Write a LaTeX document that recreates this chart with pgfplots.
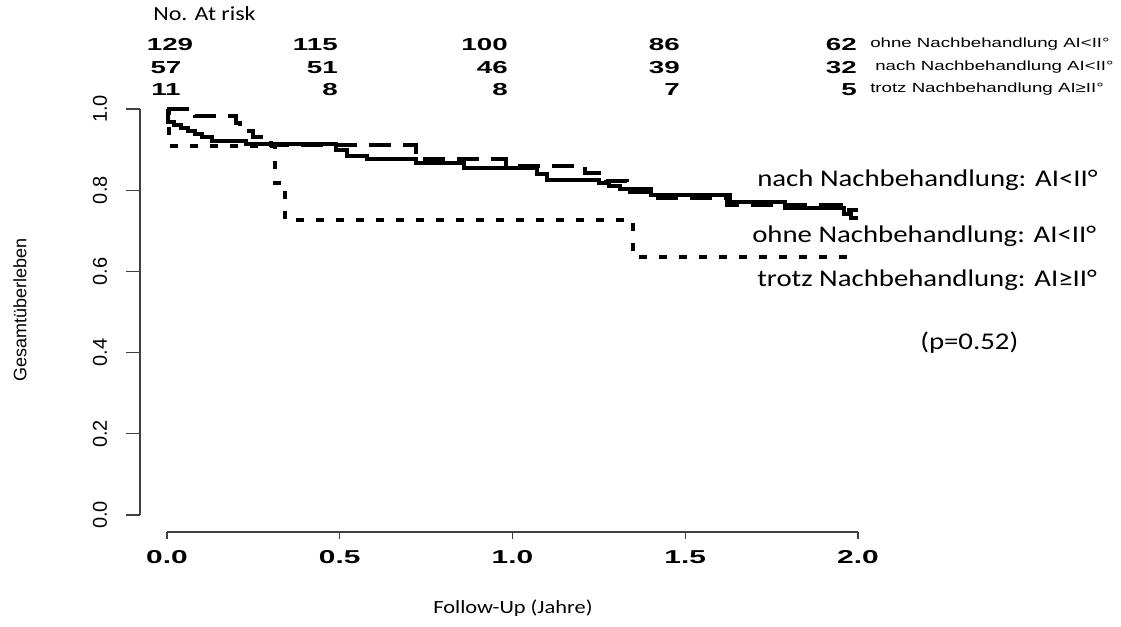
\documentclass[border=0pt]{standalone}
\usepackage{pgfplots}
\pgfplotsset{compat=1.18}
\usepackage{fontspec}
\setmainfont{Liberation Sans}
\newfontfamily\ArialW{Liberation Sans}[FakeStretch=1.4]
\newfontfamily\ArialB{Liberation Sans}[FakeStretch=1.6]
\newfontfamily\CalW{Carlito}[FakeStretch=1.2]
\begin{document}
\begin{tikzpicture}
\path[use as bounding box] (0,0) rectangle (840.75pt,469.5pt);
\begin{axis}[
  at={(105pt,70.5pt)}, anchor=south west,
  scale only axis, width=538.5pt, height=317.25pt,
  xmin=-0.0781, xmax=2, ymin=-0.0419, ymax=1,
  axis x line*=bottom, axis y line*=left,
  axis line style={draw=none},
  major tick length=0pt,
  xtick={0,0.5,1,1.5,2}, xticklabels={0.0,0.5,1.0,1.5,2.0},
  ytick={0,0.2,0.4,0.6,0.8,1}, yticklabels={0.0,0.2,0.4,0.6,0.8,1.0},
  xticklabel style={font=\ArialB\bfseries\fontsize{14}{15}\selectfont, anchor=center, yshift=-18.75pt},
  yticklabel style={font=\fontsize{15}{16}\selectfont, anchor=center, xshift=-30pt, rotate=90},
  clip=false,
]
% ohne Nachbehandlung (solid)
\addplot[const plot, line width=3pt, black] coordinates {
(0,1.0) (0.003,0.969) (0.02,0.961) (0.04,0.953) (0.06,0.946) (0.08,0.938)
(0.10,0.930) (0.13,0.922) (0.23,0.915) (0.49,0.899) (0.52,0.884) (0.58,0.877)
(0.72,0.867) (0.86,0.855) (1.07,0.840) (1.10,0.825) (1.25,0.817) (1.28,0.810)
(1.31,0.803) (1.34,0.795) (1.40,0.788) (1.63,0.772) (1.79,0.756) (1.96,0.741)
(1.98,0.731) (2.0,0.731)};
% nach Nachbehandlung (dashed)
\addplot[const plot, line width=3pt, black, dash pattern=on 16.5pt off 9pt] coordinates {
(0,1.0) (0.08,0.982) (0.20,0.965) (0.21,0.947) (0.25,0.930) (0.30,0.912)
(0.72,0.894) (0.73,0.877) (0.98,0.860) (1.21,0.842) (1.27,0.822) (1.33,0.802)
(1.41,0.782) (1.62,0.764) (1.95,0.750) (2.0,0.750)};
% trotz Nachbehandlung (dotted)
\addplot[const plot, line width=3pt, black, dash pattern=on 6pt off 9pt] coordinates {
(0,1.0) (0.005,0.909) (0.313,0.818) (0.342,0.727) (1.349,0.636) (2.0,0.636)};
% R-style axes
\draw[line width=0.9pt, black!75] (axis cs:-0.0781,0) -- (axis cs:-0.0781,1);
\draw[line width=0.9pt, black!75] (axis cs:-0.0781,0) -- ([xshift=-10.5pt]axis cs:-0.0781,0);
\draw[line width=0.9pt, black!75] (axis cs:-0.0781,0.2) -- ([xshift=-10.5pt]axis cs:-0.0781,0.2);
\draw[line width=0.9pt, black!75] (axis cs:-0.0781,0.4) -- ([xshift=-10.5pt]axis cs:-0.0781,0.4);
\draw[line width=0.9pt, black!75] (axis cs:-0.0781,0.6) -- ([xshift=-10.5pt]axis cs:-0.0781,0.6);
\draw[line width=0.9pt, black!75] (axis cs:-0.0781,0.8) -- ([xshift=-10.5pt]axis cs:-0.0781,0.8);
\draw[line width=0.9pt, black!75] (axis cs:-0.0781,1) -- ([xshift=-10.5pt]axis cs:-0.0781,1);
\draw[line width=0.9pt, black!75] (axis cs:0,-0.0419) -- (axis cs:2,-0.0419);
\draw[line width=0.9pt, black!75] (axis cs:0,-0.0419) -- ([yshift=-5.25pt]axis cs:0,-0.0419);
\draw[line width=0.9pt, black!75] (axis cs:0.5,-0.0419) -- ([yshift=-5.25pt]axis cs:0.5,-0.0419);
\draw[line width=0.9pt, black!75] (axis cs:1,-0.0419) -- ([yshift=-5.25pt]axis cs:1,-0.0419);
\draw[line width=0.9pt, black!75] (axis cs:1.5,-0.0419) -- ([yshift=-5.25pt]axis cs:1.5,-0.0419);
\draw[line width=0.9pt, black!75] (axis cs:2,-0.0419) -- ([yshift=-5.25pt]axis cs:2,-0.0419);
\end{axis}
\begin{scope}[x=0.75pt,y=0.75pt]
\node[anchor=west, inner sep=0pt, font=\CalW\fontsize{15}{16}\selectfont] at (153,612) {No. At risk};
% at-risk numbers
\begin{scope}[every node/.style={inner sep=0pt, font=\ArialB\bfseries\fontsize{13}{14}\selectfont}]
\node[anchor=center] at (170,581) {129};
\node[anchor=east] at (338,581) {115};
\node[anchor=east] at (508,581) {100};
\node[anchor=east] at (680,581) {86};
\node[anchor=east] at (857,581) {62};
\node[anchor=center] at (166,558) {57};
\node[anchor=east] at (338,558) {51};
\node[anchor=east] at (508,558) {46};
\node[anchor=east] at (680,558) {39};
\node[anchor=east] at (857,558) {32};
\node[anchor=center] at (166,536) {11};
\node[anchor=east] at (338,536) {8};
\node[anchor=east] at (508,536) {8};
\node[anchor=east] at (680,536) {7};
\node[anchor=east] at (857,536) {5};
\end{scope}
\begin{scope}[every node/.style={inner sep=0pt, anchor=west, font=\ArialW\fontsize{10}{11}\selectfont}]
\node at (870,582) {ohne Nachbehandlung AI<II°};
\node at (875,559) {nach Nachbehandlung AI<II°};
\node at (870,537) {trotz Nachbehandlung AI≥II°};
\end{scope}
\begin{scope}[every node/.style={inner sep=0pt, anchor=west, font=\CalW\fontsize{18}{20}\selectfont}]
\node at (757,446) {nach Nachbehandlung: AI<II°};
\node at (752,390) {ohne Nachbehandlung: AI<II°};
\node at (757,346) {trotz Nachbehandlung: AI≥II°};
\node at (920,283) {(p=0.52)};
\end{scope}
\node[inner sep=0pt, font=\CalW\fontsize{14}{16}\selectfont] at (513,18) {Follow-Up (Jahre)};
\node[inner sep=0pt, rotate=90, font=\fontsize{13.5}{15}\selectfont] at (20,316) {Gesamtüberleben};
\end{scope}
\end{tikzpicture}
\end{document}
